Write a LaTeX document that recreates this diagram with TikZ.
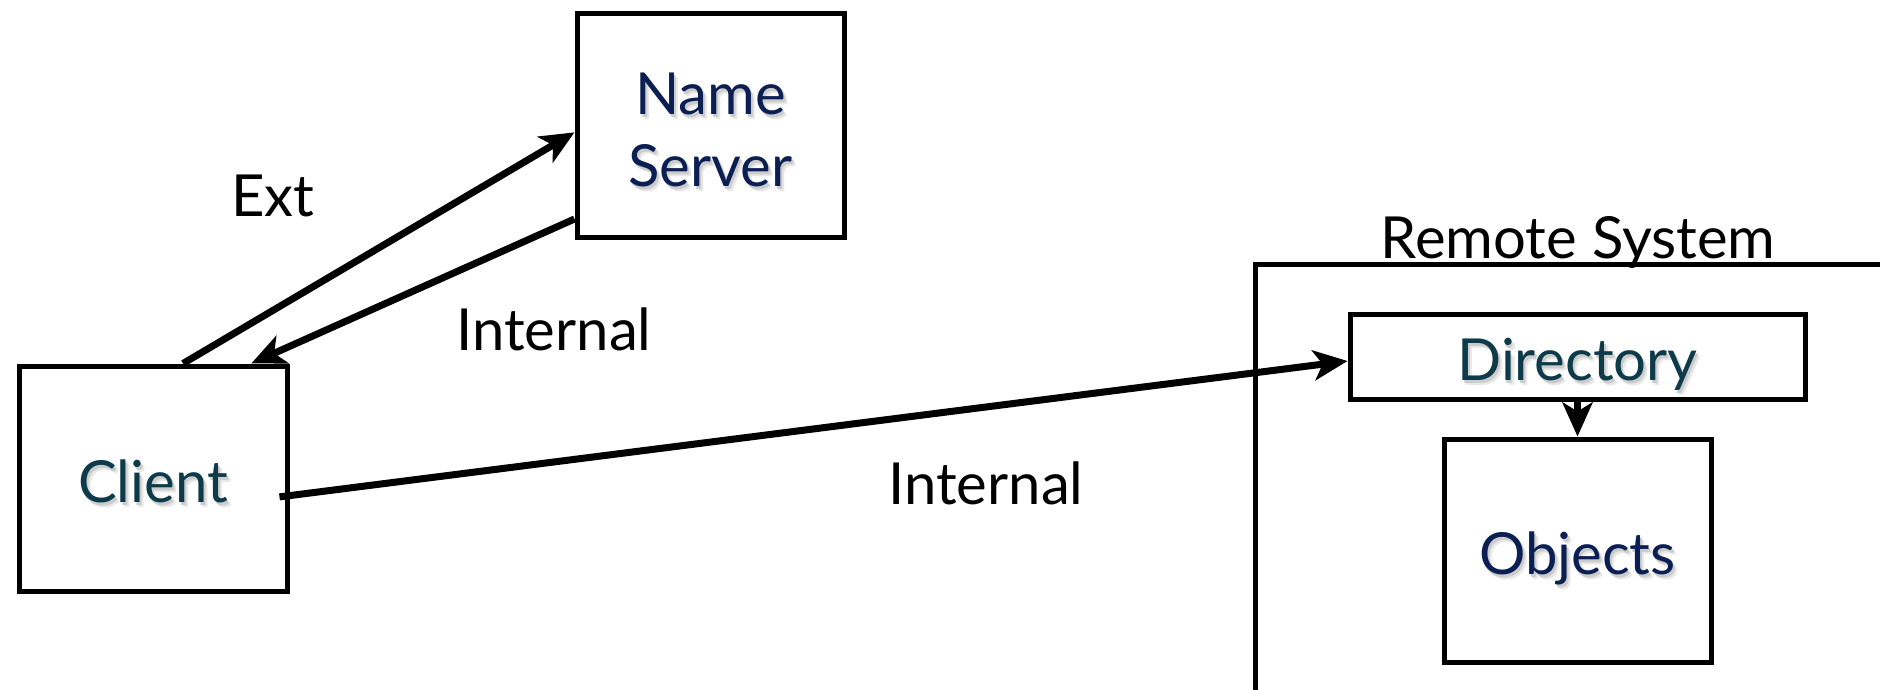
\documentclass[tikz,border=0pt]{standalone}
\usepackage{fontspec}
\setmainfont{Lato}
\usetikzlibrary{arrows.meta,calc}

\definecolor{navyink}{HTML}{0B1F52}
\definecolor{tealink}{HTML}{0E3B4A}

% text with a soft grey drop shadow
\newcommand\shd[1]{%
  \makebox[0pt][l]{\hspace{4pt}\raisebox{-5pt}{\textcolor{black!9}{#1}}}%
  \makebox[0pt][l]{\hspace{2pt}\raisebox{-3pt}{\textcolor{black!20}{#1}}}%
  #1}

\begin{document}
\begin{tikzpicture}[x=1pt,y=-1pt,
  box/.style={draw=black, line width=5pt, inner sep=0pt},
  boxtext/.style={inner sep=0pt, align=center, font=\fontsize{58}{72}\selectfont},
  lbl/.style={inner sep=0pt, font=\fontsize{58}{66}\selectfont, text=black},
  link/.style={line width=7pt, -{Stealth[length=34pt,width=30pt,inset=9pt]}}]

\useasboundingbox (0,0) rectangle (1880,690);

% boxes
\node[box, minimum width=267pt, minimum height=223pt] (ns) at (710.5,125.5) {};
\node[box, minimum width=268pt, minimum height=225pt] (client) at (153,478.5) {};
\node[box, minimum width=745pt, minimum height=536pt] (remote) at (1627.5,532) {};
\node[box, minimum width=455pt, minimum height=85pt] (dir) at (1577.5,356.5) {};
\node[box, minimum width=267pt, minimum height=223pt] (obj) at (1577.5,550.5) {};

% box captions
\node[boxtext, text=navyink] (nst) at ($(ns.center)+(0,7)$) {\shd{Name}\\\shd{Server}};
\node[boxtext, text=tealink] (clientt) at ($(client.center)+(0,5)$) {\shd{Client}};
\node[boxtext, text=tealink] (dirt) at ($(dir.center)+(0,10)$) {\shd{Directory}};
\node[boxtext, text=navyink] (objt) at ($(obj.center)+(0,10)$) {\shd{Objects}};

% labels
\node[lbl] (ext) at (273,196) {Ext};
\node[lbl] (int1) at (554,329) {Internal};
\node[lbl] (int2) at (986,483) {Internal};
\node[lbl] (rs) at (1578,242) {Remote System};

% connectors
\draw[link] ($(client.north west)!0.61!(client.north east)$)
         -- ($(ns.north west)!0.53!(ns.south west)$);
\draw[link] ($(ns.north west)!0.91!(ns.south west)$)
         -- ($(client.north west)!0.86!(client.north east)$);
\draw[link] ($(client.north east)!0.58!(client.south east)+(-10,0)$)
         -- ($(dir.north west)!0.55!(dir.south west)$);
\draw[link] (dir.south) -- (obj.north);
\end{tikzpicture}
\end{document}
